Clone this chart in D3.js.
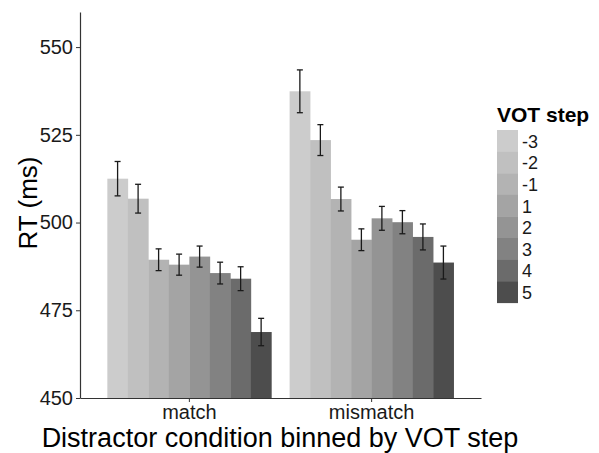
<!DOCTYPE html>
<html>
<head>
<meta charset="utf-8">
<script src="https://cdn.jsdelivr.net/npm/d3@7"></script>
<style>
body { margin: 0; background: #fff; }
text { font-family: "Liberation Sans", Arial, sans-serif; }
</style>
</head>
<body>
<div id="chart"></div>
<script>
const conditions = ["match", "mismatch"];
const steps = ["-3", "-2", "-1", "1", "2", "3", "4", "5"];
const matchRT = [512.5, 506.8, 489.4, 488.0, 490.3, 485.6, 484.0, 468.8];
const matchSE = [4.9, 4.1, 3.1, 3.0, 3.0, 3.1, 3.4, 3.9];
const mismatchRT = [537.4, 523.5, 506.7, 495.1, 501.2, 500.1, 495.9, 488.6];
const mismatchSE = [6.1, 4.4, 3.4, 3.1, 3.4, 3.3, 3.7, 4.7];
const yTicks = [450, 475, 500, 525, 550];
const greys = ["#cccccc", "#c0c0c0", "#b3b3b3", "#a4a4a4", "#949494", "#828282", "#6b6b6b", "#4d4d4d"];

const w = 599, h = 453;
const mLeft = 80, mRight = 481, mTop = 12, mBottom = 398;

const rows = [];
conditions.forEach((c, ci) => {
  const rt = ci == 0 ? matchRT : mismatchRT;
  const se = ci == 0 ? matchSE : mismatchSE;
  steps.forEach((s, i) => rows.push({cond: c, step: s, rt: rt[i], se: se[i]}));
});

const svg = d3.select("#chart").append("svg")
  .attr("width", w)
  .attr("height", h);

const xScale = d3.scaleBand()
  .domain(conditions)
  .range([mLeft, mRight])
  .paddingInner(0.1)
  .paddingOuter(0.15);
const xInner = d3.scaleBand()
  .domain(steps)
  .range([0, xScale.bandwidth()]);
const yScale = d3.scaleLinear()
  .domain([450, 560])
  .range([mBottom, mTop]);
const fill = d3.scaleOrdinal().domain(steps).range(greys);

svg.selectAll("rect.bar")
  .data(rows)
  .enter()
  .append("rect")
  .attr("class", "bar")
  .attr("x", d => xScale(d.cond) + xInner(d.step))
  .attr("y", d => yScale(d.rt))
  .attr("width", xInner.bandwidth() + 0.3)
  .attr("height", d => mBottom - yScale(d.rt))
  .attr("fill", d => fill(d.step));

// error bars
const cap = 3;
const eb = svg.selectAll("g.err")
  .data(rows)
  .enter()
  .append("g")
  .attr("class", "err")
  .attr("stroke", "#1a1a1a")
  .attr("stroke-width", 1.3);
eb.append("line")
  .attr("x1", d => xScale(d.cond) + xInner(d.step) + xInner.bandwidth() / 2)
  .attr("x2", d => xScale(d.cond) + xInner(d.step) + xInner.bandwidth() / 2)
  .attr("y1", d => yScale(d.rt - d.se))
  .attr("y2", d => yScale(d.rt + d.se));
[1, -1].forEach(sign => {
  eb.append("line")
    .attr("x1", d => xScale(d.cond) + xInner(d.step) + xInner.bandwidth() / 2 - cap)
    .attr("x2", d => xScale(d.cond) + xInner(d.step) + xInner.bandwidth() / 2 + cap)
    .attr("y1", d => yScale(d.rt + sign * d.se))
    .attr("y2", d => yScale(d.rt + sign * d.se));
});

// axes
const xAxis = d3.axisBottom(xScale).tickSize(4).tickSizeOuter(0).tickPadding(3);
const gx = svg.append("g")
  .attr("transform", "translate(0," + mBottom + ")")
  .call(xAxis);
gx.select(".domain").attr("stroke", "#333").attr("stroke-width", 1.2);
gx.selectAll(".tick line").attr("stroke", "#333");
gx.selectAll(".tick text").attr("font-size", 20).attr("fill", "#1a1a1a")
  .attr("font-family", "Liberation Sans, Arial, sans-serif");

const yAxis = d3.axisLeft(yScale).tickValues(yTicks).tickSize(4).tickSizeOuter(0).tickPadding(3);
const gy = svg.append("g")
  .attr("transform", "translate(" + mLeft + ",0)")
  .call(yAxis);
gy.select(".domain").attr("stroke", "#333").attr("stroke-width", 1.2);
gy.selectAll(".tick line").attr("stroke", "#333");
gy.selectAll(".tick text").attr("font-size", 20).attr("fill", "#1a1a1a")
  .attr("font-family", "Liberation Sans, Arial, sans-serif");

// axis titles
svg.append("text")
  .attr("x", 280)
  .attr("y", 447)
  .attr("text-anchor", "middle")
  .attr("font-size", 27)
  .attr("fill", "#000")
  .text("Distractor condition binned by VOT step");

svg.append("text")
  .attr("transform", "translate(37,203) rotate(-90)")
  .attr("text-anchor", "middle")
  .attr("font-size", 26)
  .attr("fill", "#000")
  .text("RT (ms)");

// legend
const lx = 497, ly = 130, kw = 21, kh = 21.6;
svg.append("text")
  .attr("x", 497)
  .attr("y", 122)
  .attr("font-size", 21)
  .attr("font-weight", "bold")
  .text("VOT step");
const lg = svg.selectAll("g.key")
  .data(steps)
  .enter()
  .append("g")
  .attr("class", "key")
  .attr("transform", (d, i) => "translate(" + lx + "," + (ly + i * kh) + ")");
lg.append("rect")
  .attr("width", kw)
  .attr("height", kh + 0.3)
  .attr("fill", d => fill(d));
lg.append("text")
  .attr("x", kw + 4)
  .attr("y", kh / 2 + 7)
  .attr("font-size", 18)
  .attr("fill", "#1a1a1a")
  .text(d => d);
</script>
</body>
</html>
